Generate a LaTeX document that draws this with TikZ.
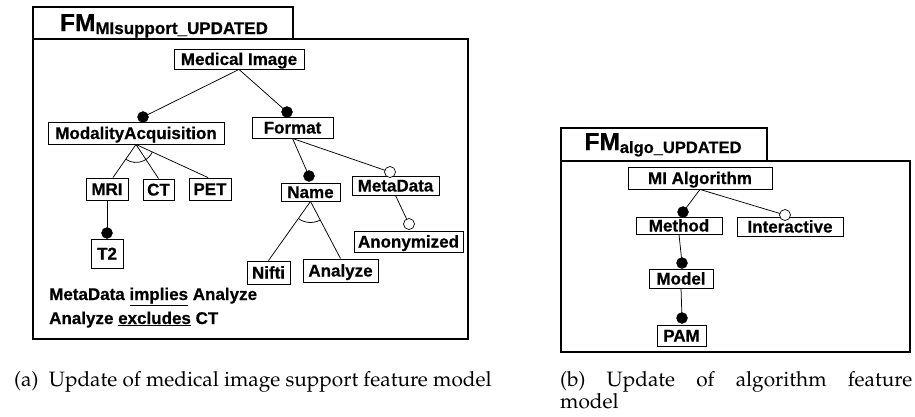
\documentclass[tikz,border=0pt]{standalone}
\usepackage[T1]{fontenc}
\usepackage{fontspec}
\newfontfamily\labfont{Liberation Sans}[BoldFeatures={FakeBold=0.6}]
\usetikzlibrary{calc}
\newcommand\lab{\labfont\bfseries\fontsize{17}{17}\selectfont}
\newcommand\capfont{\fontencoding{T1}\fontfamily{ppl}\fontsize{20.8}{22.5}\selectfont}
\tikzset{
  feat/.style={draw, line width=0.9pt, inner sep=0pt, font=\lab,
    text height=12pt, text depth=0pt},
  wh/.style 2 args={minimum width=#1pt, minimum height=#2pt},
  mand/.style={circle, fill=black, draw=black, minimum size=11pt, inner sep=0pt},
  opt/.style={circle, fill=white, draw=black, line width=0.7pt, minimum size=11pt, inner sep=0pt},
  edge/.style={line width=0.75pt},
  frame/.style={draw, line width=1.1pt},
  cons/.style={anchor=base west, inner sep=0pt, font=\lab},
  ttl/.style={anchor=base, inner sep=0pt, font=\labfont\bfseries},
}
\begin{document}
\begin{tikzpicture}[x=1pt,y=1pt]
\useasboundingbox (0,0) rectangle (915,-416);

% ---------- panel (a): medical image support ----------
\draw[frame] (33,-39) rectangle (468,-339);
\draw[frame] (33,-7) rectangle (293,-39);
\node[ttl] (ta) at (164,-31) {\fontsize{24.5}{24}\selectfont FM\fontsize{17}{17}\selectfont\raisebox{-3pt}{MIsupport\_UPDATED}};

\node[feat, wh={130}{20}] (mi) at (239,-59) {Medical Image};
\node[feat, wh={176}{22}] (modacq) at (136,-133) {ModalityAcquisition};
\node[feat, wh={81}{21}] (format) at (292.5,-127.5) {Format};
\node[feat, wh={42}{22}] (mri) at (107,-189) {MRI};
\node[feat, wh={31}{21}] (ct) at (158.5,-189.5) {CT};
\node[feat, wh={42}{22}] (pet) at (210,-189) {PET};
\node[feat, wh={59}{18}] (name) at (310.5,-192) {Name};
\node[feat, wh={87}{19}] (metadata) at (395.5,-185.5) {MetaData};
\node[feat, wh={32}{29}] (t2) at (107,-253.5) {T2};
\node[feat, wh={43}{23}] (nifti) at (268.5,-272.5) {Nifti};
\node[feat, wh={75}{23}] (analyze) at (340.5,-270.5) {Analyze};
\node[feat, wh={109}{21}] (anon) at (408.5,-241.5) {Anonymized};

\draw[edge] (mi.south) -- (143,-117) coordinate (pMod);
\draw[edge] (mi.south) -- (287,-112) coordinate (pFmt);
\draw[edge] (modacq.south) -- ($(mri.north)+(6,0)$);
\draw[edge] (modacq.south) -- (ct.north);
\draw[edge] (modacq.south) -- ($(pet.north)+(-2,0)$);
\draw[edge] (mri.south) -- (107,-233) coordinate (pT2);
\draw[edge] (format.south) -- (309,-176) coordinate (pName);
\draw[edge] (format.south) -- (390,-172) coordinate (pMeta);
\draw[edge] (name.south) -- (nifti.north);
\draw[edge] (name.south) -- (analyze.north);
\draw[edge] (metadata.south) -- (409,-224) coordinate (pAnon);

% alternative-group arcs
\draw[edge] let \p1=(modacq.south), \p2=($(mri.north)+(6,0)$), \p3=($(pet.north)+(-2,0)$),
  \n1={atan2(\y2-\y1,\x2-\x1)}, \n2={atan2(\y3-\y1,\x3-\x1)} in
  ($(\p1)+(\n1:18pt)$) arc[start angle=\n1, end angle=\n2, radius=18pt];
\draw[edge] let \p1=(name.south), \p2=(nifti.north), \p3=(analyze.north),
  \n1={atan2(\y2-\y1,\x2-\x1)}, \n2={atan2(\y3-\y1,\x3-\x1)} in
  ($(\p1)+(\n1:21pt)$) arc[start angle=\n1, end angle=\n2, radius=21pt];

\node[mand] (cMod) at (pMod) {};
\node[mand] (cFmt) at (pFmt) {};
\node[mand] (cT2) at (pT2) {};
\node[mand] (cName) at (pName) {};
\node[opt] (cMeta) at (pMeta) {};
\node[opt] (cAnon) at (pAnon) {};

\node[cons] (c1) at (49,-300) {MetaData \underline{implies} Analyze};
\node[cons] (c2) at (49,-324) {Analyze \underline{excludes} CT};

% ---------- panel (b): algorithm ----------
\draw[frame] (561,-161) rectangle (910,-352);
\draw[frame] (561,-128) rectangle (767,-161);
\node[ttl] (tb) at (663,-150) {\fontsize{24.5}{24}\selectfont FM\fontsize{16.5}{16}\selectfont\raisebox{-3pt}{algo\_UPDATED}};

\node[feat, wh={144}{22}] (mialg) at (700,-178) {MI Algorithm};
\node[feat, wh={86}{17}] (method) at (679,-225.5) {Method};
\node[feat, wh={106}{19}] (inter) at (790,-226.5) {Interactive};
\node[feat, wh={64}{19}] (model) at (681,-278.5) {Model};
\node[feat, wh={49}{21}] (pam) at (681.5,-335.5) {PAM};

\draw[edge] (mialg.south) -- (683,-212) coordinate (pMethod);
\draw[edge] (mialg.south) -- (785,-215) coordinate (pInter);
\draw[edge] (method.south) -- (682,-263) coordinate (pModel);
\draw[edge] (model.south) -- (682,-318) coordinate (pPam);

\node[mand] (cMethod) at (pMethod) {};
\node[opt] (cInter) at (pInter) {};
\node[mand] (cModel) at (pModel) {};
\node[mand] (cPam) at (pPam) {};

% ---------- captions ----------
\node[anchor=base west, inner sep=0pt, font=\capfont] (capa) at (14,-386)
  {(a)\enspace Update of medical image support feature model};
\node[anchor=base west, inner sep=0pt, font=\capfont, text width=352pt, align=justify] (capb) at (560,-386)
  {(b) Update of algorithm feature\linebreak model};
\end{tikzpicture}
\end{document}
